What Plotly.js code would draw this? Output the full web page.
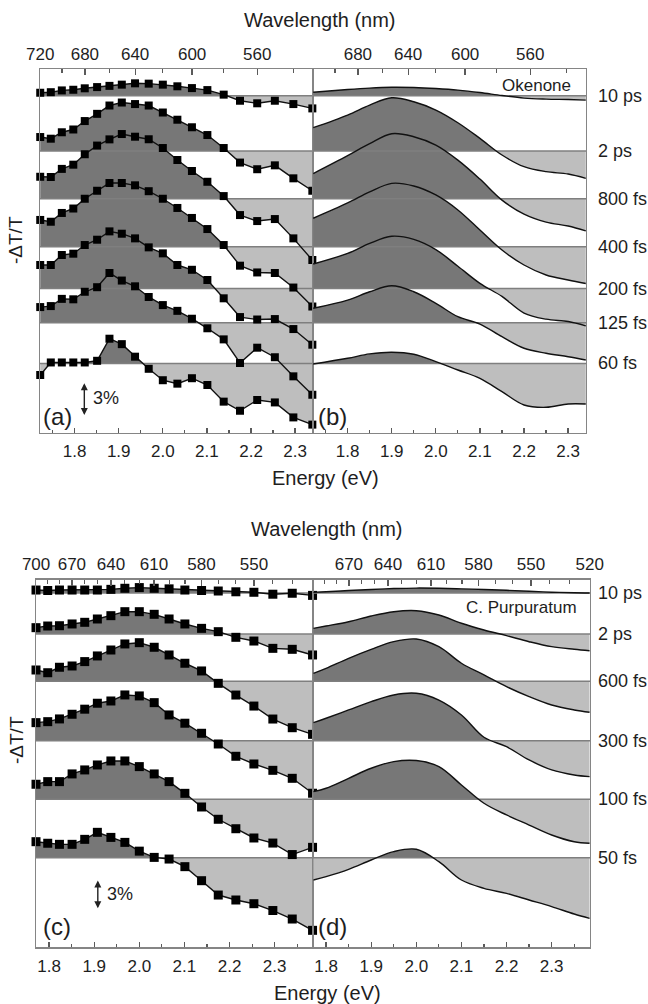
<!DOCTYPE html>
<html><head><meta charset="utf-8">
<script src="https://cdn.plot.ly/plotly-3.0.1.min.js"></script>
<style>html,body{margin:0;padding:0;background:#fff;}#chart{width:648px;height:1004px;}</style>
</head><body><div id="chart"></div>
<script>
// ================= DATA =================
// delay labels
const delaysOkenone = ['10 ps', '2 ps', '800 fs', '400 fs', '200 fs', '125 fs', '60 fs'];
const delaysPurp = ['10 ps', '2 ps', '600 fs', '300 fs', '100 fs', '50 fs'];

// panel (a): measured probe energies (eV)
const energyA = [1.722, 1.746, 1.771, 1.797, 1.823, 1.851, 1.879, 1.907, 1.937, 1.968, 2.000, 2.033, 2.066, 2.101, 2.138, 2.175, 2.214, 2.254, 2.296, 2.339];
// -dT/T (%) relative to each trace's own baseline
const okA_10ps = [0.27, 0.32, 0.48, 0.54, 0.67, 0.78, 0.89, 1.0, 1.12, 1.09, 1.0, 0.85, 0.69, 0.51, 0.10, -0.45, -0.68, -0.45, -0.75, -1.14];
const okA_2ps = [1.26, 1.11, 1.69, 1.94, 2.70, 3.35, 4.10, 4.37, 4.23, 4.10, 3.47, 2.82, 2.14, 1.44, 0.27, -1.04, -1.64, -1.29, -2.46, -3.58];
const okA_800fs = [1.98, 1.96, 2.69, 3.07, 4.01, 4.79, 5.35, 5.83, 5.59, 5.36, 4.57, 3.49, 2.50, 1.53, 0.24, -1.47, -2.01, -1.83, -3.57, -5.52];
const okA_400fs = [2.41, 2.25, 3.04, 3.44, 4.32, 5.04, 5.74, 5.74, 5.53, 5.0, 4.32, 3.49, 2.59, 1.59, 0.15, -1.71, -2.32, -2.37, -3.68, -5.39];
const okA_200fs = [2.12, 2.12, 3.02, 3.14, 3.92, 4.40, 5.15, 4.94, 4.52, 3.71, 3.17, 2.12, 1.69, 0.77, -0.88, -2.57, -2.79, -2.75, -3.65, -5.06];
const okA_125fs = [1.41, 1.50, 2.15, 2.11, 2.79, 3.20, 4.48, 3.80, 3.28, 2.32, 1.59, 1.07, 0.36, -0.50, -1.50, -3.63, -2.25, -3.11, -4.83, -6.49];
const okA_60fs = [-1.04, 0.09, 0.09, 0.09, 0.09, 0.24, 2.23, 1.74, 0.61, -0.48, -1.51, -1.82, -1.33, -1.94, -3.44, -4.26, -3.29, -3.51, -4.86, -5.51];

// panel (b): fitted curves
const energyB = [1.722, 1.8, 1.85, 1.9, 1.95, 2.0, 2.05, 2.1, 2.15, 2.2, 2.25, 2.3, 2.34];
const okB_10ps = [0.31, 0.56, 0.69, 0.76, 0.74, 0.65, 0.51, 0.29, 0.02, -0.21, -0.30, -0.34, -0.39];
const okB_2ps = [2.10, 3.24, 4.14, 4.80, 4.44, 3.69, 2.55, 1.14, -0.36, -1.41, -1.86, -2.07, -2.46];
const okB_800fs = [2.27, 3.88, 4.96, 5.86, 5.59, 4.83, 3.48, 1.77, -0.12, -1.38, -2.10, -2.46, -2.90];
const okB_400fs = [2.56, 3.94, 4.93, 5.71, 5.47, 4.66, 3.31, 1.50, -0.30, -1.65, -2.55, -3.00, -3.32];
const okB_200fs = [2.21, 3.17, 4.07, 4.71, 4.43, 3.51, 2.01, 0.47, -0.71, -2.21, -2.76, -2.97, -3.36];
const okB_125fs = [1.30, 2.04, 2.79, 3.33, 2.79, 1.75, 0.54, -0.12, -1.26, -2.30, -2.75, -3.06, -3.36];
const okB_60fs = [-0.05, 0.47, 0.86, 1.01, 0.83, 0.16, -0.59, -1.34, -2.54, -3.74, -3.95, -3.65, -3.65];

// panel (c): measured probe energies (eV)
const energyC = [1.771, 1.797, 1.823, 1.851, 1.879, 1.907, 1.937, 1.968, 2.000, 2.033, 2.066, 2.101, 2.138, 2.175, 2.214, 2.254, 2.296, 2.339, 2.384];
const cpC_10ps = [0.30, 0.25, 0.30, 0.30, 0.30, 0.30, 0.37, 0.48, 0.55, 0.48, 0.42, 0.30, 0.25, 0.20, 0.12, 0.07, -0.13, -0.03, -0.25];
const cpC_2ps = [0.65, 0.82, 0.85, 1.03, 1.20, 1.54, 1.88, 2.29, 2.29, 2.02, 1.54, 1.03, 0.58, 0.24, -0.34, -0.72, -1.47, -1.57, -2.15];
const cpC_600fs = [1.16, 0.88, 1.44, 1.57, 2.02, 2.60, 3.21, 3.83, 3.96, 3.49, 2.70, 1.85, 1.06, -0.21, -1.41, -2.54, -3.87, -4.76, -5.44];
const cpC_300fs = [1.85, 1.95, 2.23, 2.71, 3.23, 3.84, 4.07, 4.69, 4.59, 3.90, 2.64, 1.79, 0.76, -0.34, -1.60, -2.39, -3.04, -3.86, -5.39];
const cpC_100fs = [1.54, 1.81, 1.81, 2.60, 3.01, 3.52, 3.93, 3.93, 3.35, 2.60, 1.81, 0.61, -0.79, -2.05, -3.02, -3.97, -4.49, -5.67, -4.93];
const cpC_50fs = [1.64, 1.48, 1.37, 1.37, 1.88, 2.60, 2.08, 1.57, 0.67, 0.03, -0.14, -0.92, -2.36, -3.83, -4.34, -4.72, -5.42, -6.29, -7.45];

// panel (d): fitted curves
const energyD = [1.772, 1.8, 1.85, 1.9, 1.95, 2.0, 2.05, 2.1, 2.15, 2.2, 2.25, 2.3, 2.35, 2.384];
const cpD_10ps = [0.06, 0.12, 0.25, 0.36, 0.45, 0.50, 0.48, 0.42, 0.35, 0.27, 0.18, 0.08, 0.02, 0.00];
const cpD_2ps = [0.58, 0.82, 1.26, 1.85, 2.29, 2.39, 1.95, 1.10, 0.41, -0.17, -0.79, -1.30, -1.57, -1.72];
const cpD_600fs = [0.82, 1.33, 2.36, 3.28, 4.07, 4.34, 3.55, 1.85, 0.65, -0.55, -1.57, -2.43, -2.94, -3.18];
const cpD_300fs = [1.85, 2.30, 3.15, 4.00, 4.69, 4.86, 4.17, 2.64, 0.35, -0.62, -1.98, -3.00, -3.52, -3.69];
const cpD_100fs = [0.78, 1.13, 2.15, 3.18, 3.86, 3.97, 3.35, 1.47, -0.41, -1.61, -2.64, -3.66, -4.35, -4.51];
const cpD_50fs = [-2.29, -1.94, -1.19, -0.24, 0.62, 0.86, -0.41, -2.29, -3.14, -3.66, -4.34, -5.02, -5.78, -6.22];

// vertical stacking offsets (in % units)
const offsetsOkenone = [30.34, 25.36, 21.06, 16.74, 12.97, 9.89, 6.22];
const offsetsPurp = [36.31, 32.10, 27.25, 21.16, 15.15, 9.16];

// tick labels
const energyTicks = [1.8, 1.9, 2.0, 2.1, 2.2, 2.3];
const energyMinor = [1.75, 1.85, 1.95, 2.05, 2.15, 2.25, 2.35];
const wlTicksA = [720, 680, 640, 600, 560];
const wlTicksB = [680, 640, 600, 560];
const wlMinorAB = [700, 660, 620, 580, 540];
const wlTicksC = [700, 670, 640, 610, 580, 550];
const wlTicksD = [670, 640, 610, 580, 550, 520];
const wlMinorCD = [690, 680, 660, 650, 630, 620, 600, 590, 570, 560, 540, 530];

// ================= STYLE / BUILD =================
const nm2eV = nm => 1239.84 / nm;
const LIGHT = '#bebebe', DARK = '#777777', BASE = '#7f7f7f', INK = '#111111', FRAME = '#858585';
const FAM = 'Liberation Sans, Arial, Helvetica, sans-serif';
const TXT = '#1e1e1e';
const rangeAB = [1.7215, 2.3405];
const rangeCD = [1.771, 2.385];

function buildPanel(xa, ya, xs, series, offsets, shape, xr, msize) {
  const fills = [], bases = [], ink = [];
  series.forEach((vals, i) => {
    const off = offsets[i];
    const ys = vals.map(v => off + v);
    fills.push({type: 'scatter', x: [xs[0], xs[xs.length - 1]], y: [off, off], xaxis: xa, yaxis: ya,
      mode: 'lines', line: {width: 0, color: 'rgba(0,0,0,0)'}, hoverinfo: 'skip', showlegend: false});
    fills.push({type: 'scatter', x: xs, y: ys, xaxis: xa, yaxis: ya, mode: 'lines',
      line: {width: 0, color: 'rgba(0,0,0,0)', shape: shape, smoothing: 1},
      fill: 'tonexty',
      fillgradient: {type: 'vertical', colorscale: [[0, LIGHT], [0.5, LIGHT], [0.5, DARK], [1, DARK]], start: off - 0.05, stop: off + 0.05},
      hoverinfo: 'skip', showlegend: false});
    bases.push({type: 'scatter', x: xr, y: [off, off], xaxis: xa, yaxis: ya, mode: 'lines',
      line: {width: 1.5, color: BASE}, hoverinfo: 'skip', showlegend: false});
    ink.push({type: 'scatter', x: xs, y: ys, xaxis: xa, yaxis: ya, mode: msize ? 'lines+markers' : 'lines',
      line: {width: 1.4, color: INK, shape: shape, smoothing: 1},
      marker: {symbol: 'square', size: msize || 1, color: '#000', line: {width: 0}},
      cliponaxis: false, hoverinfo: 'skip', showlegend: false});
  });
  return fills.concat(bases, ink);
}

const seriesA = [okA_10ps, okA_2ps, okA_800fs, okA_400fs, okA_200fs, okA_125fs, okA_60fs];
const seriesB = [okB_10ps, okB_2ps, okB_800fs, okB_400fs, okB_200fs, okB_125fs, okB_60fs];
const seriesC = [cpC_10ps, cpC_2ps, cpC_600fs, cpC_300fs, cpC_100fs, cpC_50fs];
const seriesD = [cpD_10ps, cpD_2ps, cpD_600fs, cpD_300fs, cpD_100fs, cpD_50fs];

let traces = [];
traces = traces.concat(buildPanel('x', 'y', energyA, seriesA, offsetsOkenone, 'linear', rangeAB, 8));
traces = traces.concat(buildPanel('x2', 'y', energyB, seriesB, offsetsOkenone, 'spline', rangeAB, 0));
traces = traces.concat(buildPanel('x5', 'y2', energyC, seriesC, offsetsPurp, 'linear', rangeCD, 9));
traces = traces.concat(buildPanel('x6', 'y2', energyD, seriesD, offsetsPurp, 'spline', rangeCD, 0));
// empty traces to register the top (wavelength) axes
[['x3', 'y'], ['x4', 'y'], ['x7', 'y2'], ['x8', 'y2']].forEach(p => traces.push({type: 'scatter', x: [], y: [], xaxis: p[0], yaxis: p[1], mode: 'markers', showlegend: false, hoverinfo: 'skip'}));

const tickFont = {family: FAM, size: 17, color: TXT};
function energyAxis(domain, range, anchor) {
  return {domain: domain, range: range, anchor: anchor, side: 'bottom', tickmode: 'array',
    tickvals: energyTicks, ticktext: energyTicks.map(v => v.toFixed(1)),
    ticks: 'inside', ticklen: 5, tickwidth: 1.3, tickcolor: '#5a5a5a', tickfont: tickFont, ticklabelstandoff: 3,
    minor: {tickmode: 'array', tickvals: energyMinor, ticks: 'inside', ticklen: 3, tickwidth: 1.2, tickcolor: '#5a5a5a'},
    showline: true, linecolor: FRAME, linewidth: 1.5, showgrid: false, zeroline: false, fixedrange: true};
}
function wlAxis(over, anchor, range, labels, minor) {
  return {overlaying: over, anchor: anchor, side: 'top', range: range, tickmode: 'array',
    tickvals: labels.map(nm2eV), ticktext: labels.map(String),
    ticks: 'inside', ticklen: 6, tickwidth: 1.3, tickcolor: '#5a5a5a', tickfont: tickFont, ticklabelstandoff: 1,
    minor: {tickmode: 'array', tickvals: minor.map(nm2eV), ticks: 'inside', ticklen: 4, tickwidth: 1.2, tickcolor: '#5a5a5a'},
    showline: true, linecolor: FRAME, linewidth: 1.5, showgrid: false, zeroline: false, fixedrange: true};
}
function yAxis(domain, range, anchor) {
  return {domain: domain, range: range, anchor: anchor, showticklabels: false, ticks: '', showline: true, mirror: 'all',
    linecolor: FRAME, linewidth: 1.2, showgrid: false, zeroline: false, fixedrange: true};
}

const W = 648, H = 1004;
const px = v => v / W, py = v => 1 - v / H;
const annFont = s => ({family: FAM, size: s, color: TXT});
const annotations = [];
function txt(x, y, text, size, xanchor, extra) {
  annotations.push(Object.assign({xref: 'paper', yref: 'paper', x: px(x), y: py(y), text: text, showarrow: false,
    font: annFont(size), xanchor: xanchor || 'center', yanchor: 'middle'}, extra || {}));
}
txt(320, 20, 'Wavelength (nm)', 20);
txt(325, 478, 'Energy (eV)', 20);
txt(327, 529, 'Wavelength (nm)', 20);
txt(327, 993, 'Energy (eV)', 20);
txt(15, 240, '-ΔT/T', 19, 'center', {textangle: -90});
txt(16, 740, '-ΔT/T', 19, 'center', {textangle: -90});
txt(41, 416, '(a)', 24, 'left');
txt(316, 416, '(b)', 24, 'left');
txt(41, 926, '(c)', 24, 'left');
txt(316, 926, '(d)', 24, 'left');
txt(573, 85, 'Okenone', 17, 'right');
txt(579, 607, 'C. Purpuratum', 17, 'right');
delaysOkenone.forEach((d, i) => annotations.push({xref: 'paper', yref: 'y', x: px(596), y: offsetsOkenone[i], text: d,
  showarrow: false, xanchor: 'left', yanchor: 'middle', font: annFont(18)}));
delaysPurp.forEach((d, i) => annotations.push({xref: 'paper', yref: 'y2', x: px(596), y: offsetsPurp[i], text: d,
  showarrow: false, xanchor: 'left', yanchor: 'middle', font: annFont(18)}));
// 3% scale bars
annotations.push({xref: 'x', yref: 'y', axref: 'x', ayref: 'y', x: 1.822, y: 1.58, ax: 1.822, ay: 4.58, text: '',
  showarrow: true, arrowside: 'end+start', arrowhead: 2, startarrowhead: 2, arrowsize: 1, startarrowsize: 1, arrowwidth: 1.4, arrowcolor: '#222', standoff: 0, startstandoff: 0});
annotations.push({xref: 'x', yref: 'y', x: 1.836, y: 3.1, text: '3%', showarrow: false, xanchor: 'left', yanchor: 'middle', font: annFont(18)});
annotations.push({xref: 'x5', yref: 'y2', axref: 'x5', ayref: 'y2', x: 1.908, y: 3.97, ax: 1.908, ay: 6.97, text: '',
  showarrow: true, arrowside: 'end+start', arrowhead: 2, startarrowhead: 2, arrowsize: 1, startarrowsize: 1, arrowwidth: 1.4, arrowcolor: '#222', standoff: 0, startstandoff: 0});
annotations.push({xref: 'x5', yref: 'y2', x: 1.924, y: 5.4, text: '3%', showarrow: false, xanchor: 'left', yanchor: 'middle', font: annFont(18)});

const layout = {
  width: W, height: H, margin: {l: 0, r: 0, t: 0, b: 0}, paper_bgcolor: '#fff', plot_bgcolor: 'rgba(0,0,0,0)',
  showlegend: false, font: {family: FAM, color: TXT},
  xaxis: energyAxis([px(40), px(313)], rangeAB, 'y'),
  xaxis2: energyAxis([px(313), px(586)], rangeAB, 'y'),
  xaxis3: wlAxis('x', 'y', rangeAB, wlTicksA, wlMinorAB),
  xaxis4: wlAxis('x2', 'y', rangeAB, wlTicksB, wlMinorAB),
  xaxis5: energyAxis([px(36), px(313)], rangeCD, 'y2'),
  xaxis6: energyAxis([px(313), px(590)], rangeCD, 'y2'),
  xaxis7: wlAxis('x5', 'y2', rangeCD, wlTicksC, wlMinorCD),
  xaxis8: wlAxis('x6', 'y2', rangeCD, wlTicksD, wlMinorCD),
  yaxis: yAxis([py(432.5), py(69)], [0, 32.75], 'x'),
  yaxis2: yAxis([py(947), py(579.5)], [0, 37.69], 'x5'),
  annotations: annotations
};

Plotly.newPlot('chart', traces, layout, {displayModeBar: false, staticPlot: true});
</script>
</body></html>
